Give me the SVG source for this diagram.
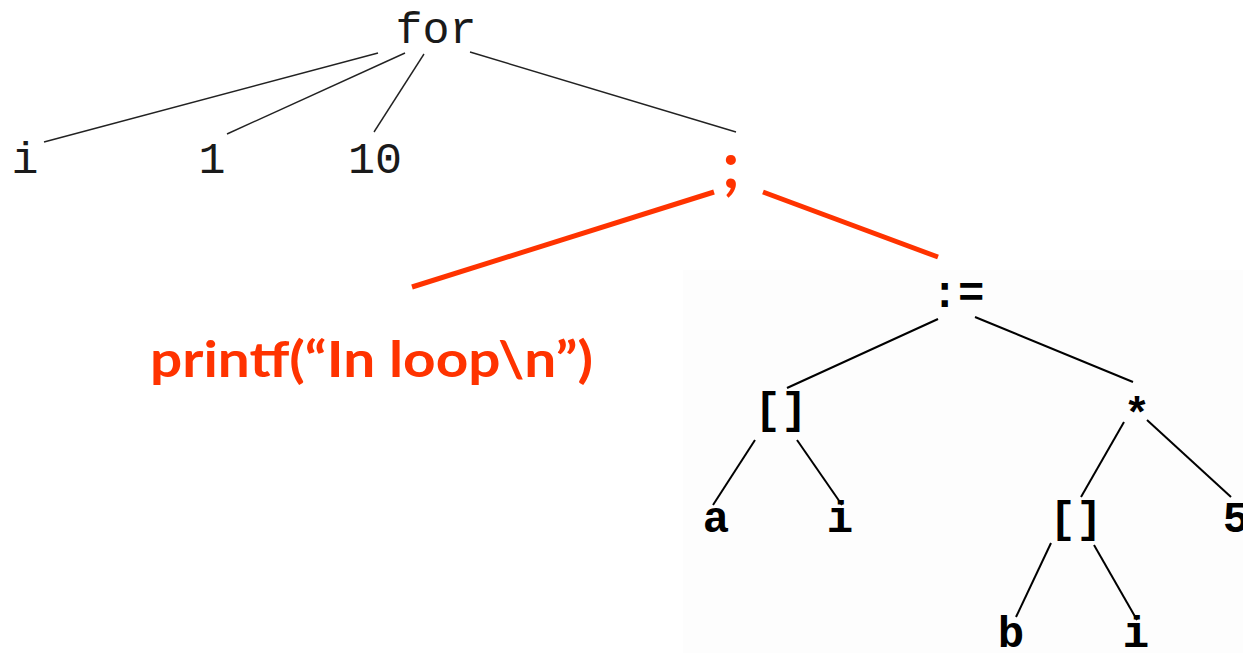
<svg xmlns="http://www.w3.org/2000/svg" width="1243" height="653" viewBox="0 0 1243 653">
  <style>
    .top { font-family: "Liberation Mono", "Courier New", monospace; font-size: 45px; fill: #1a1a1a; text-anchor: middle; }
    .pix { font-family: "Liberation Mono", "Courier New", monospace; font-weight: bold; font-size: 44px; fill: #000; text-anchor: middle; }
    .red { font-family: "Lato", "Liberation Sans", sans-serif; font-weight: 700; fill: #ff3300; }
    .thin { stroke: #222; stroke-width: 1.4; fill: none; }
    .edge { stroke: #ff3300; stroke-width: 5; fill: none; }
    .pixedge { stroke: #000; stroke-width: 2; fill: none; }
  </style>
  <rect width="1243" height="653" fill="#fff"/>
  <!-- faint panel behind the assignment subtree -->
  <rect x="683" y="270" width="560" height="383" fill="#fdfdfd"/>

  <g id="connectors">
    <line class="thin" x1="378" y1="53" x2="44" y2="142"/>
    <line class="thin" x1="405" y1="53" x2="227" y2="134"/>
    <line class="thin" x1="424" y1="54" x2="374" y2="132"/>
    <line class="thin" x1="470" y1="52" x2="736" y2="132"/>
    <line class="edge" x1="714" y1="192" x2="412" y2="287"/>
    <line class="edge" x1="763" y1="192" x2="938" y2="257"/>
    <line class="pixedge" x1="938" y1="319" x2="787" y2="388"/>
    <line class="pixedge" x1="975" y1="317" x2="1133" y2="382"/>
    <line class="pixedge" x1="755" y1="440" x2="713" y2="505"/>
    <line class="pixedge" x1="797" y1="440" x2="842" y2="505"/>
    <line class="pixedge" x1="1124" y1="422" x2="1081" y2="497"/>
    <line class="pixedge" x1="1147" y1="420" x2="1231" y2="497"/>
    <line class="pixedge" x1="1051" y1="543" x2="1016" y2="617"/>
    <line class="pixedge" x1="1094" y1="545" x2="1137" y2="620"/>
  </g>

  <g id="n-for"><text class="top" x="436" y="43">for</text></g>
  <g id="n-i"><text class="top" x="25" y="173">i</text></g>
  <g id="n-1"><text class="top" x="212" y="173">1</text></g>
  <g id="n-10"><text class="top" x="375" y="173">10</text></g>
  <g id="n-seq"><text class="red" x="731" y="188" font-size="66" text-anchor="middle">;</text></g>
  <g id="n-printf"><text class="red" x="150" y="377" font-size="50" textLength="443" lengthAdjust="spacingAndGlyphs">printf(“In loop\n”)</text></g>
  <g id="n-assign"><text class="pix" x="958" y="307">:=</text></g>
  <g id="n-index-a"><text class="pix" x="781" y="423">[]</text></g>
  <g id="n-mul"><text class="pix" x="1137" y="428">*</text></g>
  <g id="n-a"><text class="pix" x="716" y="532">a</text></g>
  <g id="n-i2"><text class="pix" x="840" y="532">i</text></g>
  <g id="n-index-b"><text class="pix" x="1076" y="532">[]</text></g>
  <g id="n-5"><text class="pix" x="1236" y="532">5</text></g>
  <g id="n-b"><text class="pix" x="1011" y="647">b</text></g>
  <g id="n-i3"><text class="pix" x="1136" y="647">i</text></g>
</svg>
